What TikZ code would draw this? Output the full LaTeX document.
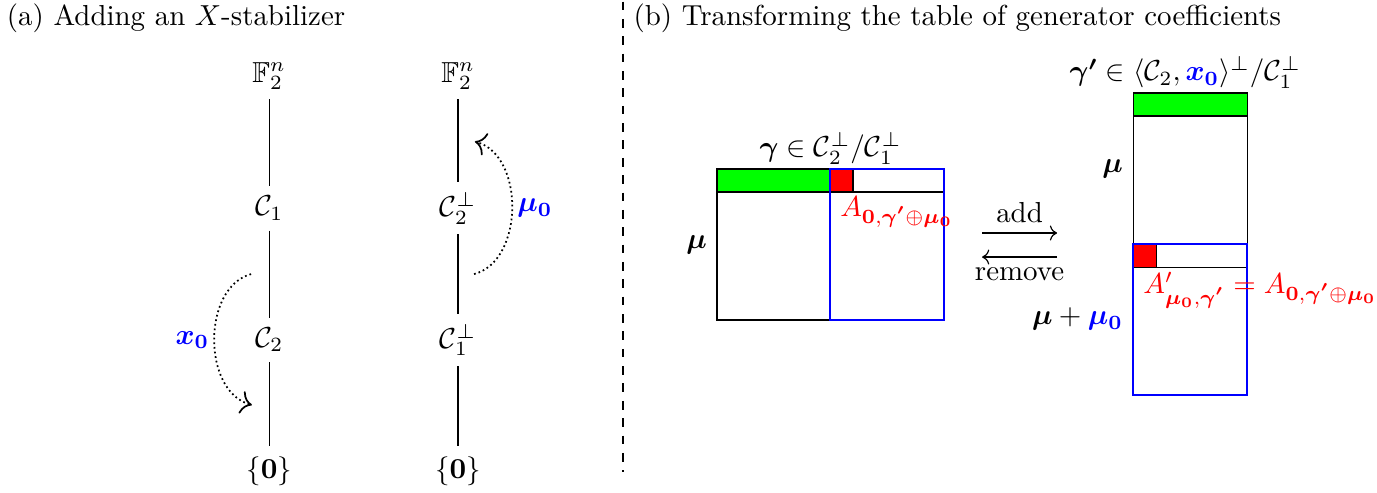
\documentclass[tikz,border=0pt]{standalone}
\usepackage{amsmath}
\usepackage{amssymb}
\usetikzlibrary{arrows.meta}

\begin{document}
\begin{tikzpicture}[
    gens/.style={fill=green},
    coeff/.style={fill=red},
    shifted/.style={draw=blue, thick},
    flow/.style={-{To[scale=1.3]}, densely dotted, semithick},
    coefflbl/.style={anchor=north west, red, inner ysep=1.5pt},
]

\useasboundingbox (0, 0) rectangle (16.73, -5.98);

% =============================================================================
% Panel (a): Adding an X-stabilizer
% =============================================================================
\node[anchor=base west] (titlea) at (-0.04, -0.31) {(a) Adding an $X$-stabilizer};

% Chain of codes
\node (fa) at (3.27, -0.92) {$\mathbb{F}_2^n$};
\node (ca) at (3.27, -2.53) {$\mathcal{C}_1$};
\node (cb) at (3.27, -4.13) {$\mathcal{C}_2$};
\node (za) at (3.27, -5.72) {$\{\mathbf{0}\}$};
\draw (fa) -- (ca) -- (cb) -- (za);

% Chain of dual codes
\node (fb) at (5.565, -0.92) {$\mathbb{F}_2^n$};
\node (cc) at (5.565, -2.53) {$\mathcal{C}_2^\perp$};
\node (cd) at (5.565, -4.13) {$\mathcal{C}_1^\perp$};
\node (zb) at (5.565, -5.72) {$\{\mathbf{0}\}$};
\draw (fb) -- (cc) -- (cd) -- (zb);

% Moving by x0 and mu0
\coordinate (xs) at (3.05, -3.33);
\coordinate (xe) at (3.06, -4.92);
\draw[flow] (xs) to[bend right=75]
    node[left, blue, inner sep=1.5pt] (xlbl) {$\boldsymbol{x_0}$} (xe);

\coordinate (ms) at (5.76, -3.33);
\coordinate (me) at (5.77, -1.72);
\draw[flow] (ms) to[bend right=75]
    node[right, blue, inner sep=1.5pt] (mlbl) {$\boldsymbol{\mu_0}$} (me);

% Separator
\draw[dashed] (7.57, -0.02) -- (7.57, -5.74);

% =============================================================================
% Panel (b): Transforming the table of generator coefficients
% =============================================================================
\node[anchor=base west] (titleb) at (7.574, -0.31)
    {(b) Transforming the table of generator coefficients};

% Table before
\filldraw[gens] (8.712, -2.053) rectangle (10.085, -2.333);
\filldraw[coeff] (10.085, -2.053) rectangle (10.364, -2.333);
\draw (8.712, -2.053) rectangle (11.47, -3.888);
\draw (8.712, -2.333) -- (11.47, -2.333);
\draw[shifted] (10.085, -2.053) rectangle (11.47, -3.888);

\node[anchor=south, inner sep=1.5pt] (gam) at (10.09, -2.053)
    {$\boldsymbol{\gamma}\in\mathcal{C}_2^\perp/\mathcal{C}_1^\perp$};
\node[anchor=east] (mua) at (8.712, -2.97) {$\boldsymbol{\mu}$};
\node[coefflbl] (acoef) at (10.085, -2.333)
    {$A_{\mathbf{0},\boldsymbol{\gamma'}\oplus\boldsymbol{\mu_0}}$};

% add / remove
\coordinate (addfrom) at (11.932, -2.831);
\coordinate (addto) at (12.843, -2.831);
\coordinate (remfrom) at (12.843, -3.123);
\coordinate (remto) at (11.932, -3.123);
\draw[->] (addfrom) -- node[above] (addlbl) {add} (addto);
\draw[->] (remfrom) -- node[below] (remlbl) {remove} (remto);

% Table after
\filldraw[gens] (13.767, -1.13) rectangle (15.152, -1.41);
\draw (13.767, -1.13) rectangle (15.152, -3.245);
\filldraw[coeff] (13.767, -2.965) rectangle (14.047, -3.245);
\draw[shifted] (13.767, -2.965) rectangle (15.152, -4.80);

\node[anchor=south, inner sep=1.5pt] (gamp) at (14.40, -1.13)
    {$\boldsymbol{\gamma'}\in\langle\mathcal{C}_2,
     \textcolor{blue}{\boldsymbol{x_0}}\rangle^\perp/\mathcal{C}_1^\perp$};
\node[anchor=east] (mub) at (13.767, -2.048) {$\boldsymbol{\mu}$};
\node[anchor=east] (mumu) at (13.767, -3.88)
    {$\boldsymbol{\mu}+\textcolor{blue}{\boldsymbol{\mu_0}}$};
\node[coefflbl] (acoefp) at (13.767, -3.245)
    {$A'_{\boldsymbol{\mu_0},\boldsymbol{\gamma'}}
     =A_{\mathbf{0},\boldsymbol{\gamma'}\oplus\boldsymbol{\mu_0}}$};

\end{tikzpicture}
\end{document}
